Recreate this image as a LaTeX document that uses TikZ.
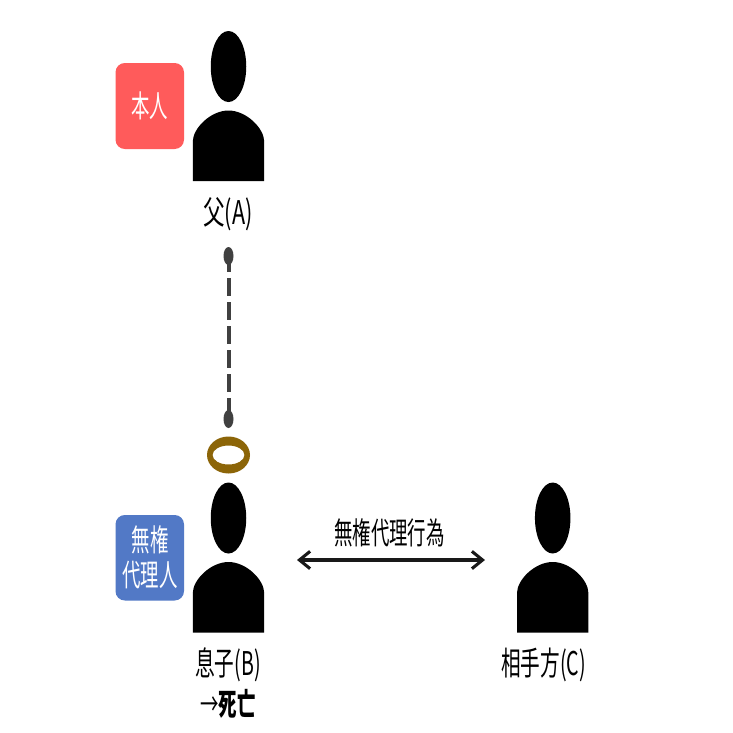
\documentclass[tikz,border=0pt]{standalone}
\usepackage{fontspec}
\usepackage{graphicx}
\setmainfont{Noto Sans CJK JP}
\usetikzlibrary{shapes.geometric,arrows.meta}
\definecolor{badgered}{HTML}{FF5B5B}
\definecolor{badgeblue}{HTML}{5279C6}
\definecolor{ringbrown}{HTML}{8C6508}
\definecolor{tiegray}{HTML}{404040}
\newcommand{\sq}[1]{\scalebox{0.6}[1]{#1}}
\tikzset{
  head/.style={ellipse,fill=black,minimum width=35.5*0.75pt,minimum height=71*0.75pt,inner sep=0pt,outer sep=0pt},
  label/.style={text=black,font=\fontsize{24.5}{29}\selectfont,align=center,inner sep=0pt},
  smalllabel/.style={text=black,font=\fontsize{23}{29}\selectfont,align=center,inner sep=0pt},
  badgetext/.style={text=white,font=\fontsize{23}{26}\selectfont,align=center,inner sep=0pt},
  badge/.style={fill=#1,rounded corners=7pt},
  blob/.style={ellipse,fill=tiegray,minimum width=7.5pt,minimum height=13.5pt,inner sep=0pt,outer sep=0pt},
  tie/.style={draw=tiegray,line width=3pt,dash pattern=on 13.5pt off 4.5pt,dash phase=1.5pt},
  deal/.style={draw=black!90,line width=2.3pt,{Straight Barb[length=8pt,width=13pt,line width=2.3pt]}-{Straight Barb[length=8pt,width=13pt,line width=2.3pt]}}
}
\newcommand{\person}[3]{% name, x, y of head centre
  \node[head] (#1head) at (#2,#3) {};
  \fill (#2-35.7,#3+114.5) -- (#2-35.7,#3+75)
    .. controls (#2-35.7,#3+62) and (#2-18,#3+44) .. (#2,#3+44)
    .. controls (#2+18,#3+44) and (#2+35.7,#3+62) .. (#2+35.7,#3+75)
    -- (#2+35.7,#3+114.5) -- cycle;
}
\begin{document}
\begin{tikzpicture}[x=0.75pt,y=-0.75pt]
\useasboundingbox (0,0) rectangle (733,733);
\fill[white] (0,0) rectangle (733,733);
\person{a}{228.5}{66.5}
\person{b}{228.5}{518}
\person{c}{552.7}{518}
% badges
\fill[badge=badgered] (115.5,63) rectangle (184,149);
\fill[badge=badgeblue] (115.5,515) rectangle (184,600.5);
\node[badgetext] (honnin) at (149.5,106) {\sq{本人}};
\node[badgetext] (muken) at (150,557) {\sq{無権}\\\sq{代理人}};
% labels
\node[label] (fa) at (228,214) {\scalebox{0.66}[1]{父(A)}};
\node[label] (son) at (228,665) {\sq{息子(B)}};
\node[smalllabel] (dead) at (228,704) {\sq{→\textbf{死亡}}};
\node[label] (other) at (543.5,665) {\sq{相手方(C)}};
\node[smalllabel] (act) at (389.5,533) {\sq{無権代理行為}};
% tie
\node[blob] (tiea) at (228.5,256) {};
\node[blob] (tieb) at (228.5,419) {};
\draw[tie] (tiea.center) -- (tieb.center);
% ring
\fill[ringbrown,even odd rule] (228.5,455) ellipse [x radius=21.5,y radius=18.5]
  (228.5,455) ellipse [x radius=16,y radius=9.5];
% arrow
\coordinate (dl) at (297,560);
\coordinate (dr) at (485,560);
\draw[deal] (dl) -- (dr);
\end{tikzpicture}
\end{document}
